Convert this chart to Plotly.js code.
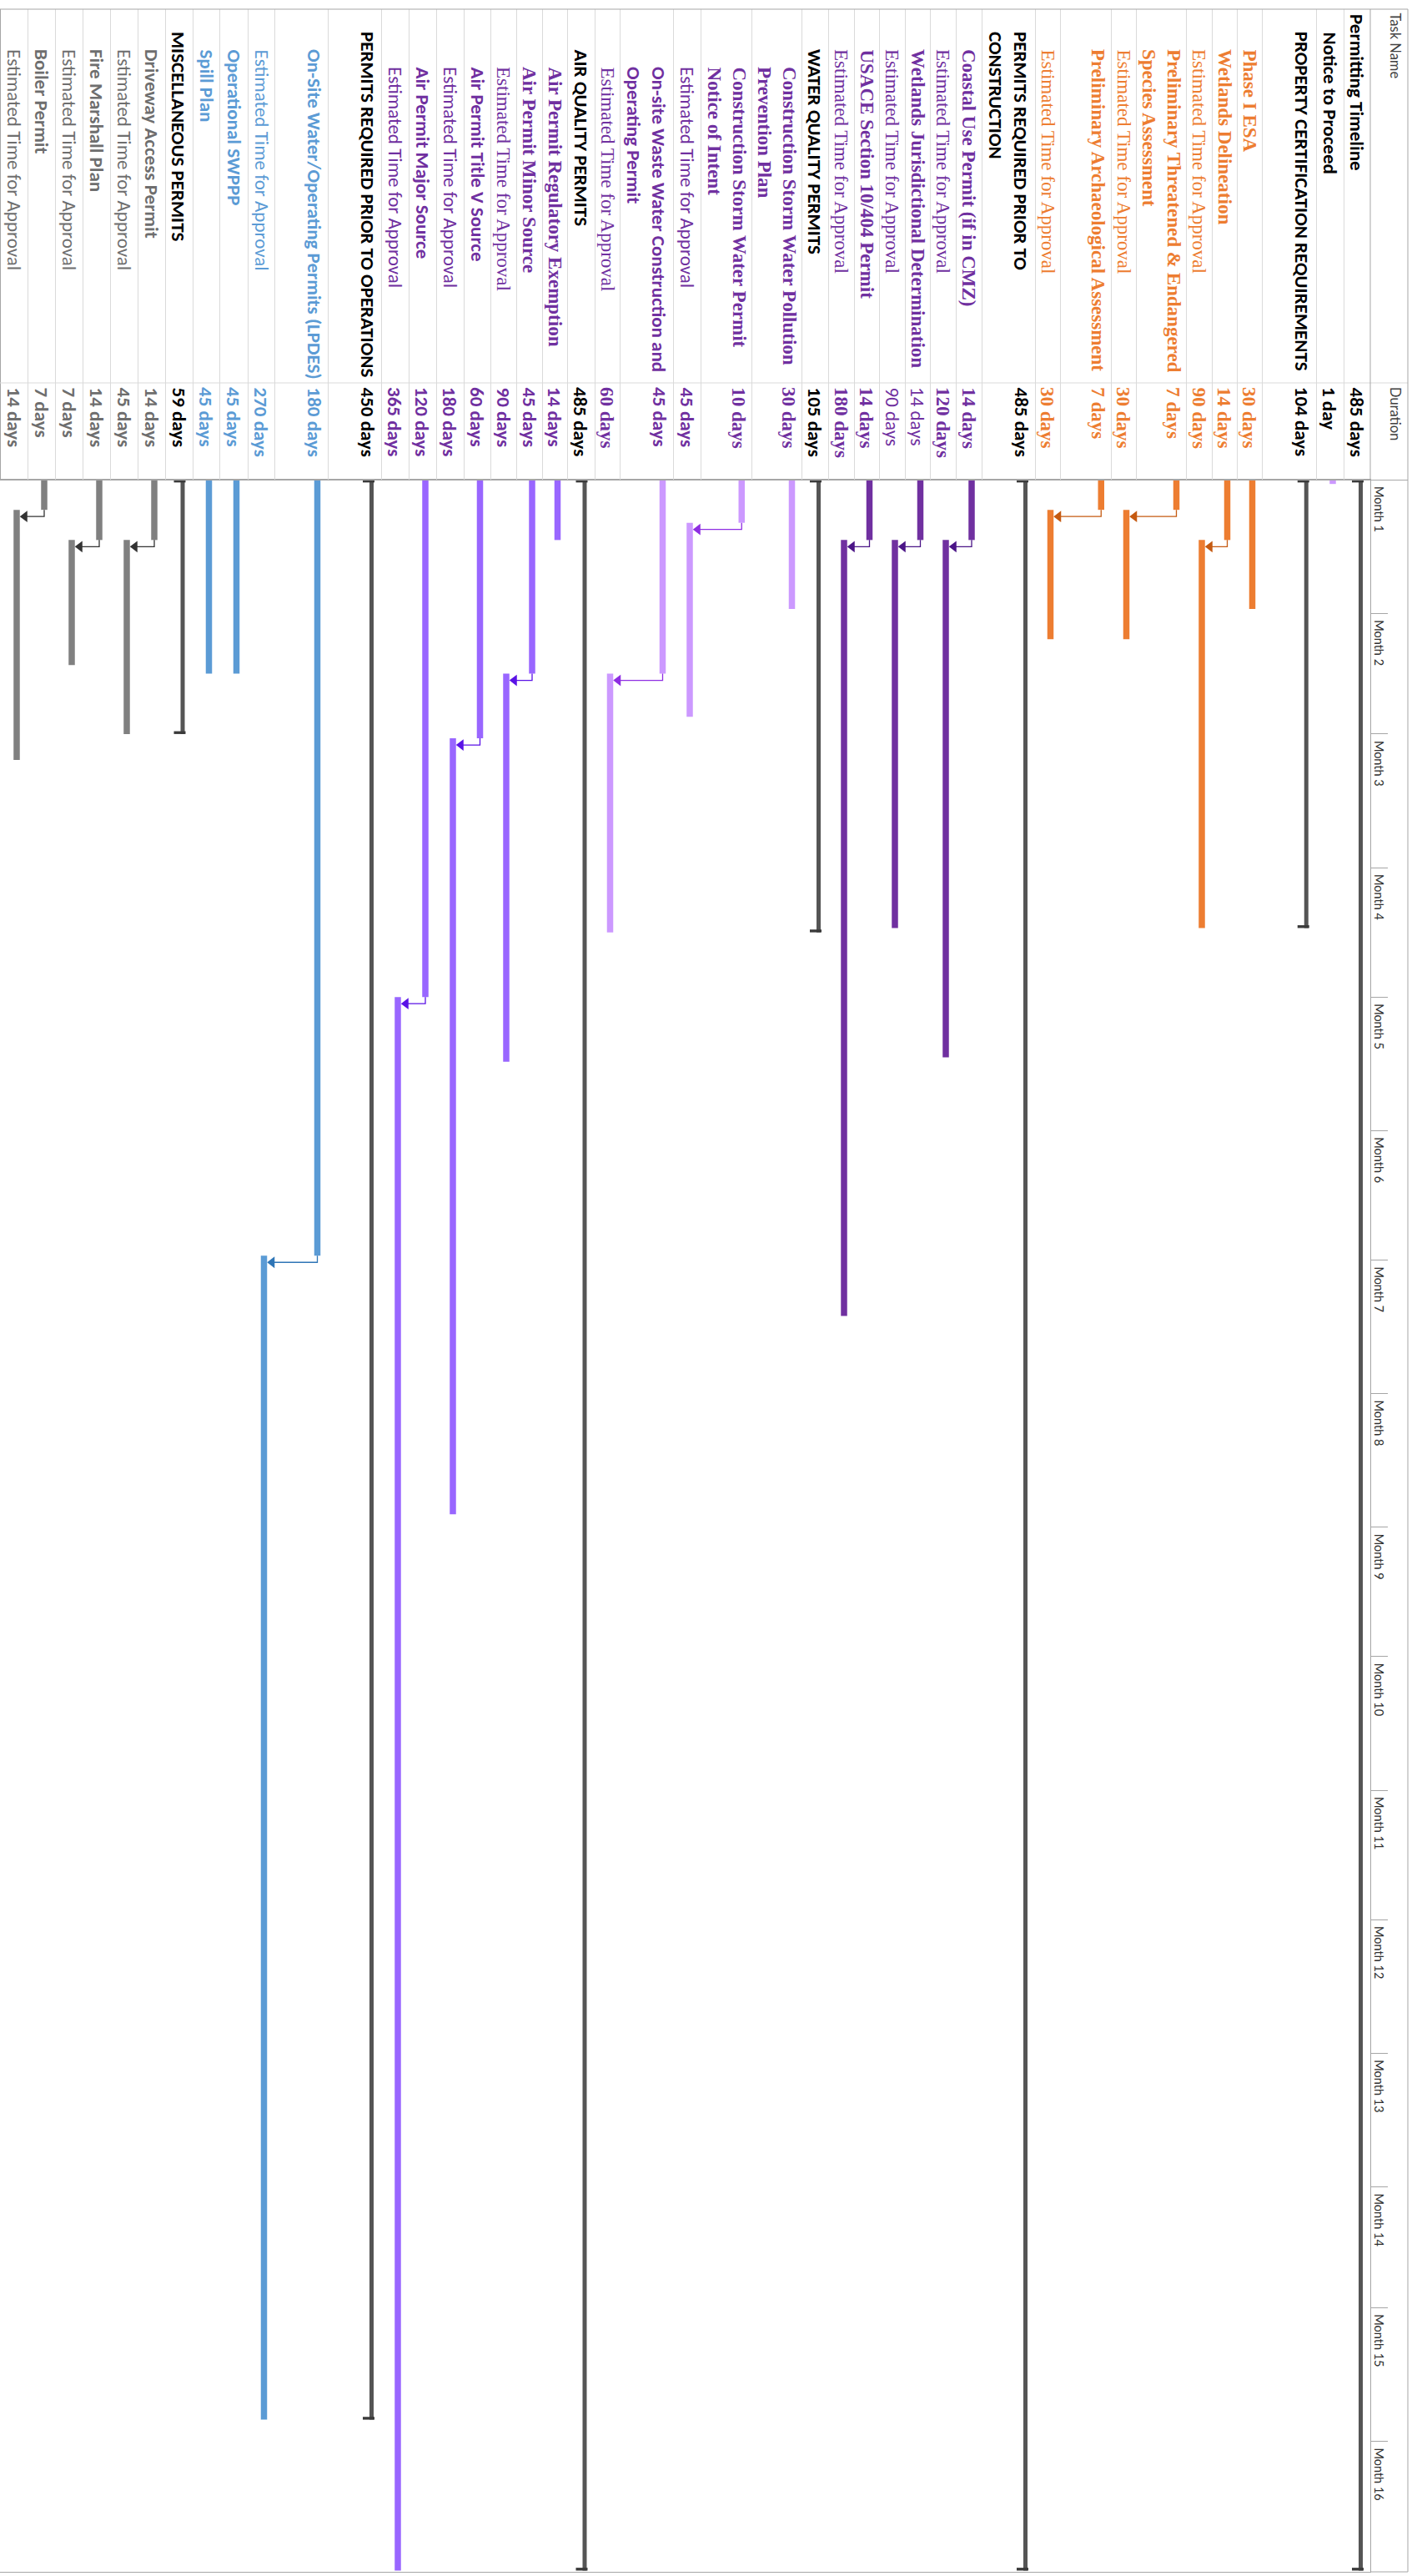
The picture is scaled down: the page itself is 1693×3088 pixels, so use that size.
<!DOCTYPE html>
<html>
<head>
<meta charset="utf-8">
<script src="https://cdn.plot.ly/plotly-3.0.1.min.js"></script>
<style>
html,body{margin:0;padding:0;background:#fff;}
#chart{width:1693px;height:3088px;}
</style>
</head>
<body>
<div id="chart"></div>
<script>
// ================= DATA =================
const taskNames = [
  "Permitting Timeline",
  "Notice to Proceed",
  "PROPERTY CERTIFICATION REQUIREMENTS",
  "Phase I ESA",
  "Wetlands Delineation",
  "Estimated Time for Approval",
  "Preliminary Threatened &amp; Endangered<br>Species Assessment",
  "Estimated Time for Approval",
  "Preliminary Archaeological Assessment",
  "Estimated Time for Approval",
  "PERMITS REQUIRED PRIOR TO<br>CONSTRUCTION",
  "Coastal Use Permit (if in CMZ)",
  "Estimated Time for Approval",
  "Wetlands Jurisdictional Determination",
  "Estimated Time for Approval",
  "USACE Section 10/404 Permit",
  "Estimated Time for Approval",
  "WATER QUALITY PERMITS",
  "Construction Storm Water Pollution<br>Prevention Plan",
  "Construction Storm Water Permit<br>Notice of Intent",
  "Estimated Time for Approval",
  "On-site Waste Water Construction and<br>Operating Permit",
  "Estimated Time for Approval",
  "AIR QUALITY PERMITS",
  "Air Permit Regulatory Exemption",
  "Air Permit Minor Source",
  "Estimated Time for Approval",
  "Air Permit Title V Source",
  "Estimated Time for Approval",
  "Air Permit Major Source",
  "Estimated Time for Approval",
  "PERMITS REQUIRED PRIOR TO OPERATIONS",
  "On-Site Water/Operating Permits (LPDES)",
  "Estimated Time for Approval",
  "Operational SWPPP",
  "Spill Plan",
  "MISCELLANEOUS PERMITS",
  "Driveway Access Permit",
  "Estimated Time for Approval",
  "Fire Marshall Plan",
  "Estimated Time for Approval",
  "Boiler Permit",
  "Estimated Time for Approval"
];
const durationLabels = [
  "485 days","1 day","104 days","30 days","14 days","90 days","7 days","30 days","7 days","30 days",
  "485 days","14 days","120 days","14 days","90 days","14 days","180 days","105 days","30 days","10 days",
  "45 days","45 days","60 days","485 days","14 days","45 days","90 days","60 days","180 days","120 days",
  "365 days","450 days","180 days","270 days","45 days","45 days","59 days","14 days","45 days","14 days",
  "7 days","7 days","14 days"
];
// bar start / finish in days from project start
const startDay = [
  0,0,0,0,0,14,0,7,0,7,
  0,0,14,0,14,0,14,0,0,0,
  10,0,45,0,0,0,45,0,60,0,
  120,0,0,180,0,0,0,0,14,0,
  14,0,7
];
const finishDay = [
  485,1,104,30,14,104,7,37,7,37,
  485,14,134,14,104,14,194,105,30,10,
  55,45,105,485,14,45,135,60,240,120,
  485,450,180,450,45,45,59,14,59,14,
  43,7,65
];
// predecessor task ID (1-based, 0 = none)
const predecessorId = [
  0,0,0,0,0,5,0,7,0,9,
  0,0,12,0,14,0,16,0,0,0,
  20,0,22,0,0,0,26,0,28,0,
  30,0,0,33,0,0,0,0,38,0,
  40,0,42
];
const outlineLevel = [
  0,1,1,2,2,2,2,2,2,2,
  1,2,2,2,2,2,2,2,3,3,
  3,3,3,2,3,3,3,3,3,3,
  3,1,2,2,2,2,1,2,2,2,
  2,2,2
];
const isSummary = [
  1,0,1,0,0,0,0,0,0,0,
  1,0,0,0,0,0,0,1,0,0,
  0,0,0,1,0,0,0,0,0,0,
  0,1,0,0,0,0,1,0,0,0,
  0,0,0
];
const taskGroup = [
  "sum","ntp","sum","prop","prop","prop","prop","prop","prop","prop",
  "sum","con","con","con","con","con","con","sum","wq","wq",
  "wq","wq","wq","sum","air","air","air","air","air","air",
  "air","sum","ops","ops","ops","ops","sum","misc","misc","misc",
  "misc","misc","misc"
];
const monthLabels = ["Month 1","Month 2","Month 3","Month 4","Month 5","Month 6","Month 7","Month 8",
  "Month 9","Month 10","Month 11","Month 12","Month 13","Month 14","Month 15","Month 16"];
const monthLengthDays = [31,28,31,30,31,30,31,31,30,31,30,31,31,28,31,30];

// ================= STYLE / LAYOUT =================
const W = 1693, H = 3088;
const PLOT_TOP = 575, PLOT_BOTTOM = 3083, PLOT_RIGHT = 1643;
const PLOT_H = PLOT_BOTTOM - PLOT_TOP;
const PX_PER_DAY = 5.168;
const DAY_MAX = PLOT_H / PX_PER_DAY;
// table row edges (px, right edge of each row in the rotated sheet)
const ROW_EDGES = [1643,1611,1578,1513,1483,1453,1422,1362,1332,1271,1241,1177,1146,1115,1085,1054,1024,
  993,961,901,840,807,743,713,680,650,619,588,556,523,490,457,393,329,297,263,231,198,165,132,99,66,33,0];

const nameStyle = ["SB","SB","SB","TB","TB","TR","TB","TR","TB","TR",
  "SB","TB","TR","TB","TR","TB","TR","SB","TB","TB",
  "SR","SB","TR","SB","TB","TB","TR","SB","SR","SB",
  "SR","SB","SB","SR","SB","SB","SB","SB","SR","SB",
  "SR","SB","SR"];
const durStyle = ["SB","SB","SB","TB","TB","TB","TB","TB","TB","TB",
  "SB","TB","TB","SR","SR","TB","TB","SB","TB","TB",
  "SB","SB","TB","SB","SB","SB","SB","SB","SB","SB",
  "SB","SB","SB","SB","SB","SB","SB","SB","SB","SB",
  "SB","SB","SB"];

const SANS = 'Carlito, Calibri, Lato, sans-serif';
const UI = 'Lato, "Noto Sans", sans-serif';
const SERIF = '"Liberation Serif", "Times New Roman", serif';
const FONT_SPEC = {
  SB: {family: SANS, size: 23, weight: 700},
  SR: {family: SANS, size: 23, weight: 400},
  TB: {family: SERIF, size: 23, weight: 700},
  TR: {family: SERIF, size: 23, weight: 400}
};
const TEXT_COLOR = {sum:"#000000", ntp:"#000000", prop:"#ED7D31", con:"#7030A0", wq:"#7030A0",
  air:"#7030A0", ops:"#5B9BD5", misc:"#6E6E6E"};
const BAR_COLOR = {ntp:"#CC99FF", prop:"#ED7D31", con:"#7030A0", wq:"#CC99FF", air:"#9966FF",
  ops:"#5B9BD5", misc:"#808080"};
const LINK_COLOR = {prop:"#C55A11", con:"#4B1587", wq:"#8E2DE2", air:"#5A12E6", ops:"#2E75B6", misc:"#333333"};
const SUMMARY_COLOR = "#555555";
const GRID_LIGHT = "#dadada", GRID_DARK = "#a6a6a6";

const pyToPaper = py => (PLOT_BOTTOM - py) / PLOT_H;
const pxToPaper = px => px / PLOT_RIGHT;

// row geometry
const nRows = taskNames.length;
const firstLineX = [], nameX = [];
for (let i = 0; i < nRows; i++) {
  const r = ROW_EDGES[i], l = ROW_EDGES[i + 1];
  const two = (r - l) > 45;
  const fl = two ? r - (r - l) / 4 : (r + l) / 2;
  firstLineX.push(fl);
  nameX.push(taskNames[i].indexOf("<br>") >= 0 ? (r + l) / 2 : fl);
}

// ================= TRACES =================
const traces = [];
const BAR_OFF = 3.5, BAR_W = 7.5;
// task bars grouped by colour
Object.keys(BAR_COLOR).forEach(g => {
  const xs = [], bs = [], ys = [];
  for (let i = 0; i < nRows; i++) {
    if (isSummary[i] || taskGroup[i] !== g) continue;
    xs.push(firstLineX[i] + BAR_OFF); bs.push(startDay[i]); ys.push(finishDay[i] - startDay[i]);
  }
  if (!xs.length) return;
  traces.push({type:"bar", orientation:"v", x:xs, base:bs, y:ys, width:BAR_W,
    marker:{color:BAR_COLOR[g], line:{width:0}}, hoverinfo:"skip", showlegend:false});
});
// summary bars: thin line + end caps
(function () {
  const lx = [], lb = [], ly = [], cx = [], cb = [], cy = [];
  const CAP = 0.65;
  for (let i = 0; i < nRows; i++) {
    if (!isSummary[i]) continue;
    lx.push(firstLineX[i] + 4.5); lb.push(startDay[i]); ly.push(finishDay[i] - startDay[i]);
    cx.push(firstLineX[i] + 1, firstLineX[i] + 1);
    cb.push(startDay[i], finishDay[i] - CAP); cy.push(CAP, CAP);
  }
  traces.push({type:"bar", x:lx, base:lb, y:ly, width:5, marker:{color:SUMMARY_COLOR, line:{width:0}},
    hoverinfo:"skip", showlegend:false});
  traces.push({type:"bar", x:cx, base:cb, y:cy, width:14, marker:{color:"#3a3a3a", line:{width:0}},
    hoverinfo:"skip", showlegend:false});
})();
// dependency links (finish-to-start)
Object.keys(LINK_COLOR).forEach(g => {
  const lx = [], ly = [], ax = [], ay = [];
  for (let i = 0; i < nRows; i++) {
    const p = predecessorId[i] - 1;
    if (p < 0 || taskGroup[i] !== g) continue;
    const px = firstLineX[p] + BAR_OFF;
    const yTurn = finishDay[p] + 1.55;
    const tip = firstLineX[i] + BAR_OFF + BAR_W / 2;
    lx.push(px, px, tip + 4, null); ly.push(finishDay[p], yTurn, yTurn, null);
    ax.push(tip + 6); ay.push(yTurn);
  }
  if (!lx.length) return;
  traces.push({type:"scatter", mode:"lines", x:lx, y:ly, line:{color:LINK_COLOR[g], width:1.3},
    hoverinfo:"skip", showlegend:false, cliponaxis:false});
  traces.push({type:"scatter", mode:"markers", x:ax, y:ay,
    marker:{symbol:"triangle-left", size:12, color:LINK_COLOR[g], line:{width:0}},
    hoverinfo:"skip", showlegend:false, cliponaxis:false});
});

// ================= ANNOTATIONS =================
const annotations = [];
for (let i = 0; i < nRows; i++) {
  const col = TEXT_COLOR[taskGroup[i]];
  annotations.push({xref:"x", yref:"paper", x:nameX[i], y:pyToPaper(15 + 21 * outlineLevel[i]),
    xanchor:"center", yanchor:"top", textangle:90, showarrow:false, align:"left",
    text:taskNames[i], font:Object.assign({color:col}, FONT_SPEC[nameStyle[i]])});
  annotations.push({xref:"x", yref:"paper", x:firstLineX[i], y:pyToPaper(462),
    xanchor:"center", yanchor:"top", textangle:90, showarrow:false, align:"left",
    text:durationLabels[i], font:Object.assign({color:col}, FONT_SPEC[durStyle[i]])});
}
annotations.push({xref:"paper", yref:"paper", x:pxToPaper(1673), y:pyToPaper(13), xanchor:"center", yanchor:"top",
  textangle:90, showarrow:false, text:"Task Name", font:{family:UI, size:16.5, color:"#404040"}});
annotations.push({xref:"paper", yref:"paper", x:pxToPaper(1673), y:pyToPaper(462), xanchor:"center", yanchor:"top",
  textangle:90, showarrow:false, text:"Duration", font:{family:UI, size:16.5, color:"#404040"}});
// month starts
const monthStart = [];
let acc = 0;
for (let m = 0; m < monthLengthDays.length; m++) { monthStart.push(acc); acc += monthLengthDays[m]; }
monthLabels.forEach((lab, m) => {
  const py = PLOT_TOP + monthStart[m] * PX_PER_DAY + 6;
  annotations.push({xref:"paper", yref:"paper", x:pxToPaper(1643), y:pyToPaper(py), xanchor:"left", yanchor:"top",
    textangle:90, showarrow:false, text:lab, font:{family:UI, size:14.5, color:"#303030"}});
});

// ================= SHAPES (table grid) =================
const shapes = [];
function pline(x0, y0, x1, y1, color) {
  shapes.push({type:"line", xref:"paper", yref:"paper", x0:pxToPaper(x0), x1:pxToPaper(x1),
    y0:pyToPaper(y0), y1:pyToPaper(y1), line:{color:color, width:1}});
}
for (let i = 1; i < ROW_EDGES.length; i++) pline(ROW_EDGES[i] + 0.5, 11, ROW_EDGES[i] + 0.5, PLOT_TOP, GRID_LIGHT);
pline(0.5, 11, 0.5, PLOT_TOP, GRID_DARK);
pline(0, 459, 1688, 459, GRID_LIGHT);
pline(0, 11, 1688, 11, GRID_DARK);
pline(1643, 11, 1643, PLOT_TOP, GRID_DARK);
pline(1688, 11, 1688, PLOT_BOTTOM, GRID_DARK);
pline(0, PLOT_TOP + 0.5, 1688, PLOT_TOP + 0.5, GRID_DARK);
pline(1643, PLOT_BOTTOM, 1688, PLOT_BOTTOM, GRID_DARK);

// ================= LAYOUT =================
const layout = {
  width: W, height: H,
  margin: {l:0, r:W - PLOT_RIGHT, t:PLOT_TOP, b:H - PLOT_BOTTOM, pad:0, autoexpand:false},
  paper_bgcolor:"#ffffff", plot_bgcolor:"#ffffff",
  barmode:"overlay", showlegend:false,
  xaxis:{range:[0, PLOT_RIGHT], showgrid:false, zeroline:false, showticklabels:false, ticks:"",
    showline:true, mirror:true, linecolor:GRID_DARK, linewidth:1, fixedrange:true},
  yaxis:{range:[DAY_MAX, 0], showgrid:false, zeroline:false, side:"right", showticklabels:false,
    ticks:"outside", ticklen:20, tickwidth:1, tickcolor:GRID_DARK, tickmode:"array", tickvals:monthStart,
    showline:true, mirror:true, linecolor:GRID_DARK, linewidth:1, fixedrange:true},
  annotations: annotations,
  shapes: shapes
};
Plotly.newPlot("chart", traces, layout, {displayModeBar:false, staticPlot:true});
</script>
</body>
</html>
